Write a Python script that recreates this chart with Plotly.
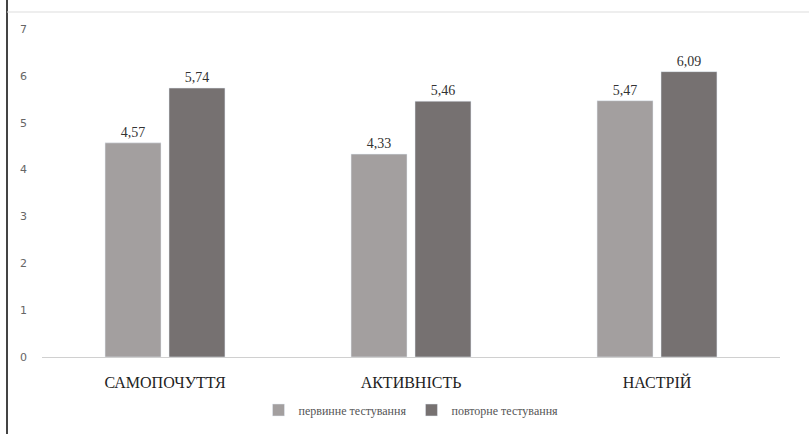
import plotly.graph_objects as go

categories = ["САМОПОЧУТТЯ", "АКТИВНІСТЬ", "НАСТРІЙ"]
first_test = [4.57, 4.33, 5.47]
repeat_test = [5.74, 5.46, 6.09]
series_names = ["первинне тестування", "повторне тестування"]

SERIF = "Liberation Serif, Times New Roman, DejaVu Serif, serif"

def fmt(v):
    return f"{v:.2f}".replace(".", ",")

fig = go.Figure()
fig.add_trace(go.Bar(
    x=categories, y=first_test, name=series_names[0],
    marker=dict(color="#a39f9f"),
    text=[fmt(v) for v in first_test], textposition="outside",
    textfont=dict(family=SERIF, size=14, color="#333333"),
    cliponaxis=False,
))
fig.add_trace(go.Bar(
    x=categories, y=repeat_test, name=series_names[1],
    marker=dict(color="#767171"),
    text=[fmt(v) for v in repeat_test], textposition="outside",
    textfont=dict(family=SERIF, size=14, color="#333333"),
    cliponaxis=False,
))

L, R, T, B = 42, 29, 29, 77
W, H = 809, 434
pw = W - L - R
ph = H - T - B

fig.update_layout(
    width=W, height=H,
    margin=dict(l=L, r=R, t=T, b=B, autoexpand=False),
    paper_bgcolor="white", plot_bgcolor="white",
    barmode="group", bargap=0.48, bargroupgap=0.125,
    showlegend=True,
    legend=dict(orientation="h", x=0.5, xanchor="center",
                yref="container", y=(H - 410) / H, yanchor="middle",
                font=dict(family=SERIF, size=12, color="#555555"),
                traceorder="normal", itemwidth=30),
    xaxis=dict(showgrid=False, showline=True, linecolor="#d0d0d0", linewidth=1,
               ticks="", ticklabelstandoff=11,
               tickfont=dict(family=SERIF, size=16, color="#222222")),
    yaxis=dict(range=[0, 7], dtick=1, showgrid=False, showline=False, zeroline=False,
               ticks="", ticklabelstandoff=14,
               tickfont=dict(family="DejaVu Sans", size=11, color="#666666")),
    shapes=[
        dict(type="line", xref="paper", yref="paper",
             x0=(7 - L) / pw, x1=(7 - L) / pw, y0=(H - B) / ph, y1=-B / ph,
             line=dict(color="#444444", width=2)),
        dict(type="line", xref="paper", yref="paper",
             x0=(7 - L) / pw, x1=1 + R / pw, y0=(H - B - 12) / ph, y1=(H - B - 12) / ph,
             line=dict(color="#dddddd", width=1)),
    ],
)

fig.write_html("out.html")
